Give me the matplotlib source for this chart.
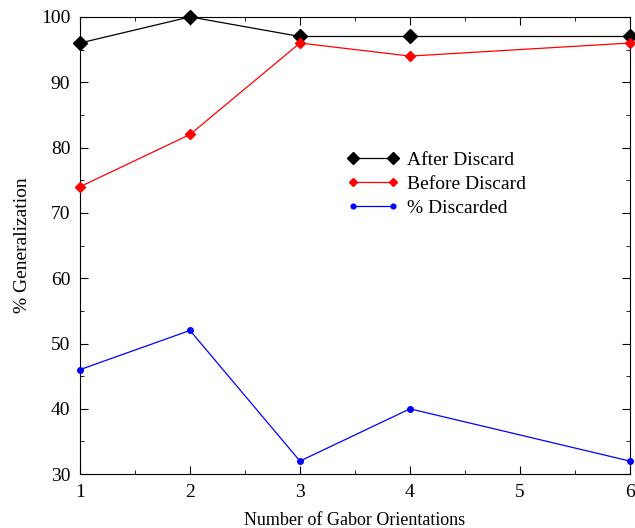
import numpy as np
import matplotlib.pyplot as plt
from matplotlib.ticker import MultipleLocator

plt.rcParams['font.family'] = ['Liberation Serif', 'DejaVu Serif']
plt.rcParams['font.size'] = 14

x_after = [1, 2, 3, 4, 6]
after_discard = [96, 100, 97, 97, 97]
x_before = [1, 2, 3, 4, 6]
before_discard = [74, 82, 96, 94, 96]
x_disc = [1, 2, 3, 4, 6]
pct_discarded = [46, 52, 32, 40, 32]

fig = plt.figure(figsize=(6.35, 5.28), dpi=100)
ax = fig.add_axes([0.126, 0.102, 0.866, 0.866])

ax.plot(x_after, after_discard, color="black", lw=0.9, marker="D", ms=7, label="After Discard", clip_on=False, zorder=3)
ax.plot(x_before, before_discard, color="red", lw=0.9, marker="D", ms=5, label="Before Discard", clip_on=False, zorder=3)
ax.plot(x_disc, pct_discarded, color="blue", lw=0.9, marker="o", ms=4, label="% Discarded", clip_on=False, zorder=3)

ax.set_xlim(1, 6)
ax.set_ylim(30, 100)
ax.xaxis.set_major_locator(MultipleLocator(1))
ax.xaxis.set_minor_locator(MultipleLocator(0.5))
ax.yaxis.set_major_locator(MultipleLocator(10))
ax.yaxis.set_minor_locator(MultipleLocator(5))
ax.tick_params(which="both", direction="in", top=True, right=True, labelsize=14)
ax.tick_params(which="major", length=6, pad=7)
ax.tick_params(which="minor", length=3)

ax.set_xlabel("Number of Gabor Orientations", fontsize=13, labelpad=8)
ax.set_ylabel("% Generalization", fontsize=14, labelpad=7)

ax.legend(loc="upper left", bbox_to_anchor=(0.485, 0.706), frameon=False,
          numpoints=2, handlelength=2.7, handletextpad=0.4, labelspacing=0.33,
          borderpad=0, borderaxespad=0, markerscale=0.85, fontsize=14)

fig.savefig("out.png")
